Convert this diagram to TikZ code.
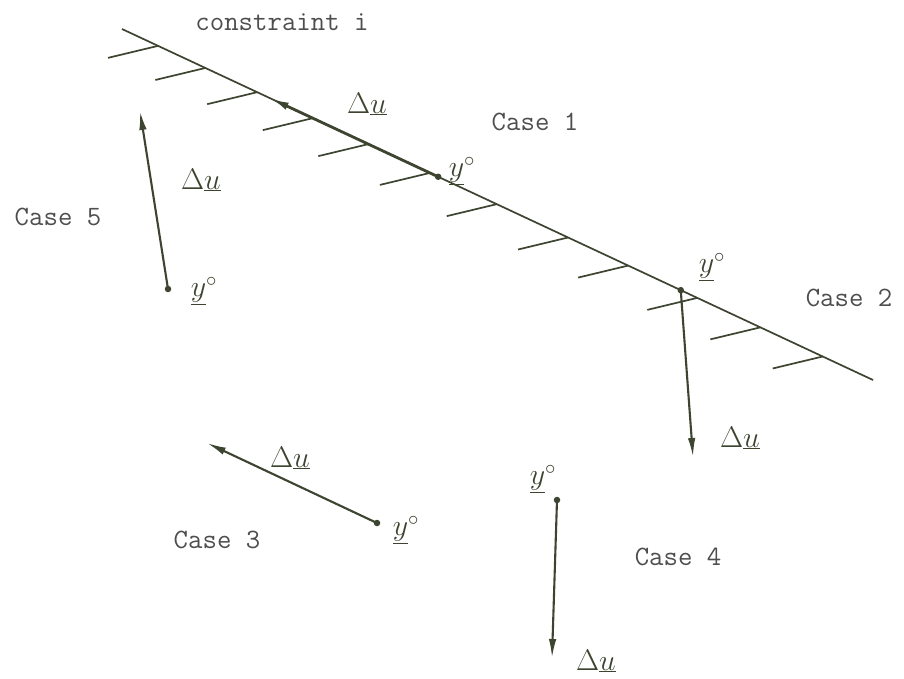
\documentclass[tikz,border=0pt]{standalone}
\usetikzlibrary{arrows.meta,calc}
\definecolor{ink}{HTML}{3D4530}
\definecolor{txt}{HTML}{4E4E4E}
\tikzset{
  cline/.style={draw=ink,line width=1.7pt},
  hatch/.style={draw=ink,line width=1.7pt},
  vec/.style={draw=ink,line width=2.1pt,-{Latex[length=19pt,width=7.5pt]}},
  pt/.style={circle,fill=ink,inner sep=0pt,minimum size=6.5pt},
  lbl/.style={text=txt,font=\fontsize{28}{32}\selectfont\ttfamily,inner sep=0pt},
  sym/.style={text=ink,font=\fontsize{24}{28}\selectfont,inner sep=0pt,scale=1.2}
}
\begin{document}
\begin{tikzpicture}[x=1pt,y=-1pt]
\useasboundingbox[fill=white] (0,0) rectangle (904,678);
% constraint line
\coordinate (A) at (122,29);
\coordinate (B) at (873,380);
\draw[cline] (A) -- (B);
\foreach \t in {0.048,0.111,0.180,0.254,0.328,0.410,0.499,0.594,0.674,0.766,0.850,0.933}{
  \draw[hatch] ($(A)!\t!(B)$) -- ++(-50,12);
}
\node[lbl] (ci) at (282,22) {constraint i};
% Case 1
\node[pt] (p1) at ($(A)!0.421!(B)$) {};
\coordinate (t1) at ($(A)!0.197!(B)$);
\draw[vec,line width=2.8pt] (p1.center) -- (t1);
\node[sym] (du1) at (367,104) {$\Delta\underline{u}$};
\node[sym] (y1) at (462,171) {$\underline{y}^{\circ}$};
\node[lbl] (c1) at (535,122) {Case 1};
% Case 2
\node[pt] (p2) at ($(A)!0.744!(B)$) {};
\coordinate (t2) at (693,457);
\draw[vec] (p2.center) -- (t2);
\node[sym] (y2) at (712,267) {$\underline{y}^{\circ}$};
\node[sym] (du2) at (740,438) {$\Delta\underline{u}$};
\node[lbl] (c2) at (849,298) {Case 2};
% Case 3
\node[pt] (p3) at (377,523) {};
\coordinate (t3) at (207,443);
\draw[vec] (p3.center) -- (t3);
\node[sym] (du3) at (290,458) {$\Delta\underline{u}$};
\node[sym] (y3) at (406,530) {$\underline{y}^{\circ}$};
\node[lbl] (c3) at (217,540) {Case 3};
% Case 4
\node[pt] (p4) at (557,500) {};
\coordinate (t4) at (552,658);
\draw[vec] (p4.center) -- (t4);
\node[sym] (y4) at (543,479) {$\underline{y}^{\circ}$};
\node[sym] (du4) at (596,661) {$\Delta\underline{u}$};
\node[lbl] (c4) at (678,557) {Case 4};
% Case 5
\node[pt] (p5) at (168,289) {};
\coordinate (t5) at (140,111);
\draw[vec] (p5.center) -- (t5);
\node[sym] (du5) at (201,180) {$\Delta\underline{u}$};
\node[sym] (y5) at (204,291) {$\underline{y}^{\circ}$};
\node[lbl] (c5) at (58,217) {Case 5};
\end{tikzpicture}
\end{document}
